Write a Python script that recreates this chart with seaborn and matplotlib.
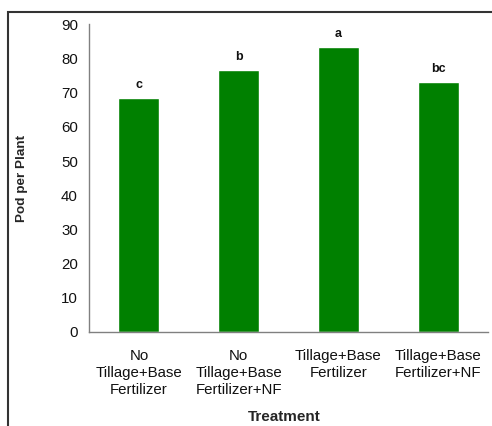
import matplotlib
matplotlib.use("Agg")
import matplotlib.pyplot as plt
import seaborn as sns
from matplotlib.patches import Rectangle

# Data
treatments = ["No\nTillage+Base\nFertilizer", "No\nTillage+Base\nFertilizer+NF",
              "Tillage+Base\nFertilizer", "Tillage+Base\nFertilizer+NF"]
pods = [68.6, 76.6, 83.3, 73.1]
letters = ["c", "b", "a", "bc"]

sns.set_style("white")
plt.rcParams["font.family"] = ["Liberation Sans", "DejaVu Sans"]

fig = plt.figure(figsize=(4.92, 4.26), dpi=100)
ax = fig.add_axes([0.181, 0.2207, 0.811, 0.722])

sns.barplot(x=treatments, y=pods, color="#008000", saturation=1, width=0.41, ax=ax)

for i, (v, lab) in enumerate(zip(pods, letters)):
    ax.annotate(lab, (i, v), xytext=(0, 5), textcoords="offset points",
                ha="center", va="bottom", fontsize=9, fontweight="bold", color="#111111")

ax.set_ylim(0, 90)
ax.set_yticks(range(0, 91, 10))
ax.set_xlim(-0.5, 3.5)
ax.set_xticks(range(len(treatments)))
ax.set_xticklabels(treatments, fontsize=10.8, linespacing=1.3, color="#111111")
ax.set_xticks([-0.5, 0.5, 1.5, 2.5, 3.5], minor=True)
ax.tick_params(axis="x", which="major", length=0, pad=12)
ax.tick_params(axis="x", which="minor", length=4, width=1, color="#808080", direction="out")
ax.tick_params(axis="y", length=5, width=1, color="#808080", direction="out",
               labelsize=10.8, labelcolor="#111111", pad=3)

for s in ["top", "right"]:
    ax.spines[s].set_visible(False)
for s in ["left", "bottom"]:
    ax.spines[s].set_color("#808080")
    ax.spines[s].set_linewidth(1)

ax.set_ylabel("Pod per Plant", fontsize=9.7, fontweight="bold")
ax.yaxis.set_label_coords(-0.168, 0.5)
ax.yaxis.label.set_va("center")
ax.set_xlabel("Treatment", fontsize=11, fontweight="bold")
ax.xaxis.set_label_coords(0.49, -0.275)
ax.xaxis.label.set_va("center")

# outer chart border (cut at the right and bottom edges in the original)
fig.patches.append(Rectangle((0.016, -0.1), 1.1, 0.972 + 0.1, transform=fig.transFigure,
                             fill=False, lw=1.5, edgecolor="#333333", zorder=10))

plt.savefig("out.png", dpi=100)
